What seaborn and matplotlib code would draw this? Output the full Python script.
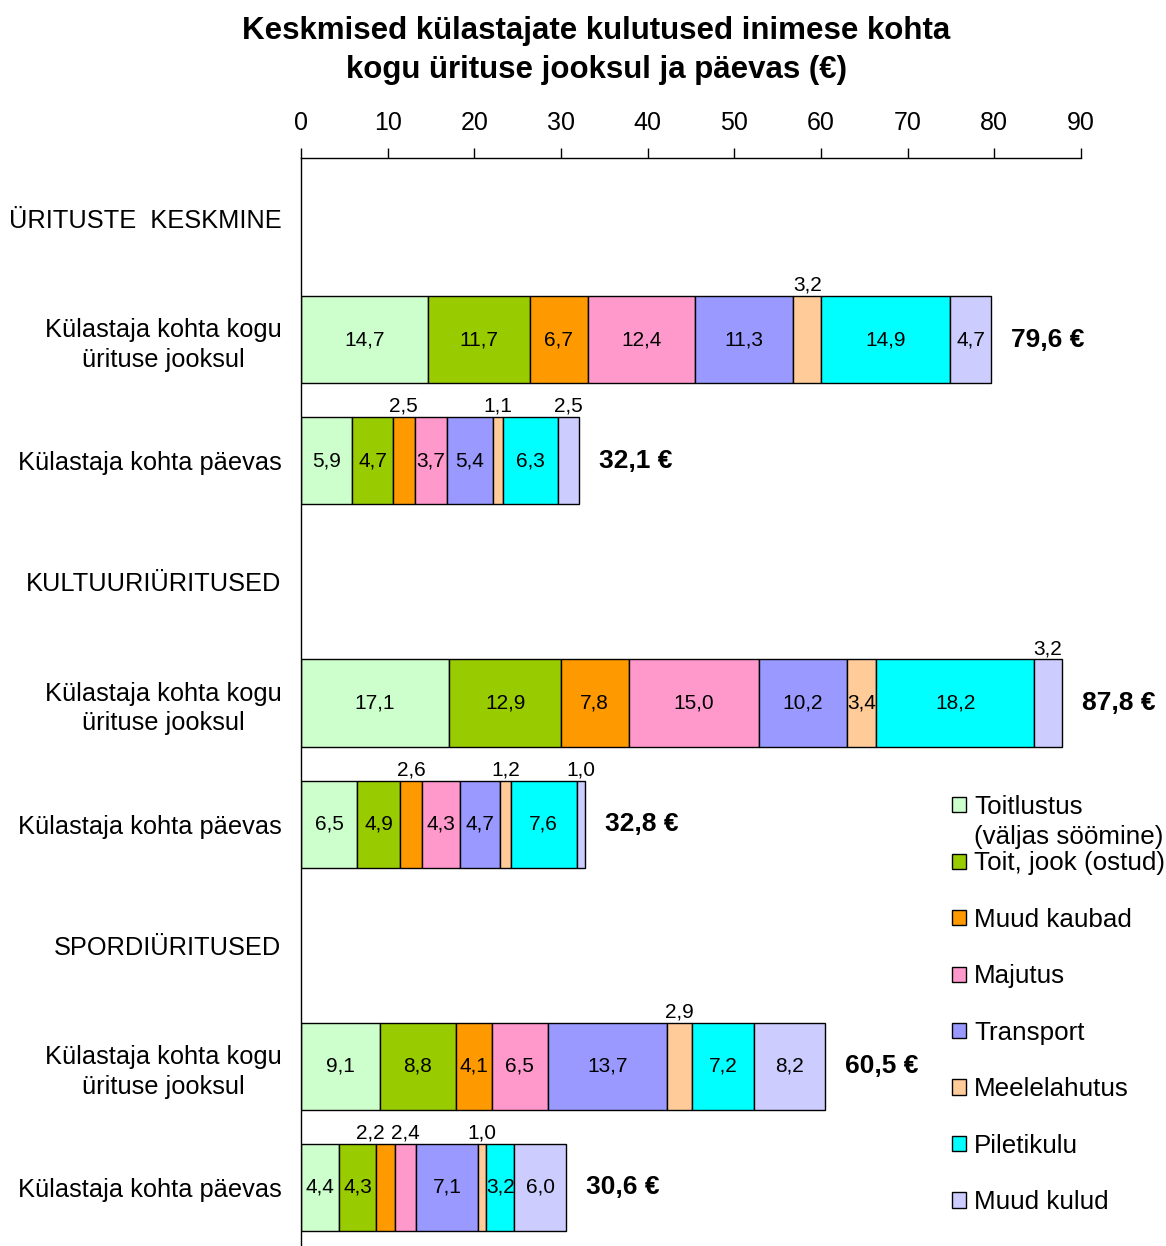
import numpy as np
import pandas as pd
import matplotlib
matplotlib.use("Agg")
import matplotlib.pyplot as plt
import seaborn as sns

# legend categories and their colours
categories = ["Toitlustus", "Toit, jook (ostud)", "Muud kaubad", "Majutus",
              "Transport", "Meelelahutus", "Piletikulu", "Muud kulud"]
category_note = "(väljas söömine)"
colors = ["#CCFFCC", "#99CC00", "#FF9900", "#FF99CC",
          "#9999FF", "#FFCC99", "#00FFFF", "#CCCCFF"]

# all rows on the y axis (headers included)
row_ids = ["kesk", "kesk_kogu", "kesk_paev",
           "kult", "kult_kogu", "kult_paev",
           "sport", "sport_kogu", "sport_paev"]
row_labels = ["ÜRITUSTE  KESKMINE", "Külastaja kohta kogu\nürituse jooksul", "Külastaja kohta päevas",
              "KULTUURIÜRITUSED", "Külastaja kohta kogu\nürituse jooksul", "Külastaja kohta päevas",
              "SPORDIÜRITUSED", "Külastaja kohta kogu\nürituse jooksul", "Külastaja kohta päevas"]

# rows that have bars
bar_rows = ["kesk_kogu", "kesk_paev", "kult_kogu", "kult_paev", "sport_kogu", "sport_paev"]
kesk_kogu = [14.7, 11.7, 6.7, 12.4, 11.3, 3.2, 14.9, 4.7]
kesk_paev = [5.9, 4.7, 2.5, 3.7, 5.4, 1.1, 6.3, 2.5]
kult_kogu = [17.1, 12.9, 7.8, 15.0, 10.2, 3.4, 18.2, 3.2]
kult_paev = [6.5, 4.9, 2.6, 4.3, 4.7, 1.2, 7.6, 1.0]
sport_kogu = [9.1, 8.8, 4.1, 6.5, 13.7, 2.9, 7.2, 8.2]
sport_paev = [4.4, 4.3, 2.2, 2.4, 7.1, 1.0, 3.2, 6.0]
totals = [79.6, 32.1, 87.8, 32.8, 60.5, 30.6]

# segments whose value label sits above the bar: (row, category index) -> sideways nudge in points
labels_above = {("kesk_kogu", 5): 0, ("kesk_paev", 2): 0, ("kesk_paev", 5): 0, ("kesk_paev", 7): 0,
                ("kult_kogu", 7): 0, ("kult_paev", 2): 0, ("kult_paev", 5): 0, ("kult_paev", 7): 0,
                ("sport_kogu", 5): 0, ("sport_paev", 2): -11, ("sport_paev", 3): 0, ("sport_paev", 5): 0}

df = pd.DataFrame([kesk_kogu, kesk_paev, kult_kogu, kult_paev, sport_kogu, sport_paev],
                  index=bar_rows, columns=categories)
lefts = df.cumsum(axis=1) - df

sns.set_theme(style="white")
plt.rcParams['font.family'] = ['Liberation Sans', 'DejaVu Sans']
for key in ["text.color", "axes.labelcolor", "xtick.color", "ytick.color"]:
    plt.rcParams[key] = "black"

W, H = 1166, 1246
fig = plt.figure(figsize=(W / 100, H / 100), dpi=100)
ax = fig.add_axes([301 / W, -2 / H, 780 / W, (H - 158 + 2) / H])

bar_h = 0.72
for i, cat in enumerate(categories):
    sns.barplot(x=df[cat].values, y=bar_rows, order=row_ids, orient="h",
                color=colors[i], left=lefts[cat].values, width=bar_h,
                edgecolor="black", linewidth=1, errorbar=None, label=cat,
                saturation=1, ax=ax)
if ax.get_legend() is not None:
    ax.get_legend().remove()

ax.set_xlim(0, 90)
ax.set_ylim(len(row_ids) - 0.5, -0.5)
ax.set_xlabel("")
ax.set_ylabel("")

# x axis on top
ax.xaxis.tick_top()
ax.set_xticks(range(0, 91, 10))
ax.tick_params(axis="x", direction="out", length=7, width=1, color="black",
               pad=9.5, labelsize=18)

# y ticks at row boundaries, labels in the middle of rows
bounds = np.arange(-0.5, len(row_ids), 1)
ax.set_yticks(bounds, [""] * len(bounds))
ax.set_yticks(np.arange(len(row_ids)), row_labels, minor=True)
ax.tick_params(axis="y", which="major", direction="out", length=7, width=1, color="black")
ax.tick_params(axis="y", which="minor", length=0, pad=14, labelsize=18.3)
for lbl in ax.get_yticklabels(minor=True):
    lbl.set_multialignment("center")
    lbl.set_linespacing(1.3)

for side in ["right", "bottom"]:
    ax.spines[side].set_visible(False)
for side in ["left", "top"]:
    ax.spines[side].set_color("black")
    ax.spines[side].set_linewidth(1)

# value labels
for r in bar_rows:
    pos = row_ids.index(r)
    for i, cat in enumerate(categories):
        val = df.loc[r, cat]
        xc = lefts.loc[r, cat] + val / 2
        txt = f"{val:.1f}".replace(".", ",")
        if (r, i) in labels_above:
            ax.annotate(txt, xy=(xc, pos - bar_h / 2), xytext=(labels_above[(r, i)], 1),
                        textcoords="offset points", ha="center", va="bottom", fontsize=15)
        else:
            ax.text(xc, pos, txt, ha="center", va="center", fontsize=15)

for r, t in zip(bar_rows, totals):
    pos = row_ids.index(r)
    ax.annotate(f"{t:.1f} €".replace(".", ","), xy=(t, pos), xytext=(14.4, 0),
                textcoords="offset points", ha="left", va="center",
                fontsize=19, fontweight="bold")

# legend
handles, labels = ax.get_legend_handles_labels()
leg = fig.legend(handles, labels, loc="upper left",
                 bbox_to_anchor=(952 / W, 1 - 795 / H), frameon=False,
                 fontsize=18.7, handlelength=0.53, handleheight=0.53,
                 handletextpad=0.33, labelspacing=1.25, borderpad=0, borderaxespad=0)
fig.canvas.draw()
bb = leg.get_texts()[0].get_window_extent(fig.canvas.get_renderer())
fig.text(bb.x0 / W, ((bb.y0 + bb.y1) / 2 - 30) / H, category_note,
         ha="left", va="center", fontsize=18.7)

fig.text(596 / W, 1 - 16 / H,
         "Keskmised külastajate kulutused inimese kohta\nkogu ürituse jooksul ja päevas (€)",
         ha="center", va="top", fontsize=22.5, fontweight="bold", linespacing=1.38)

fig.savefig("out.png", dpi=100)
